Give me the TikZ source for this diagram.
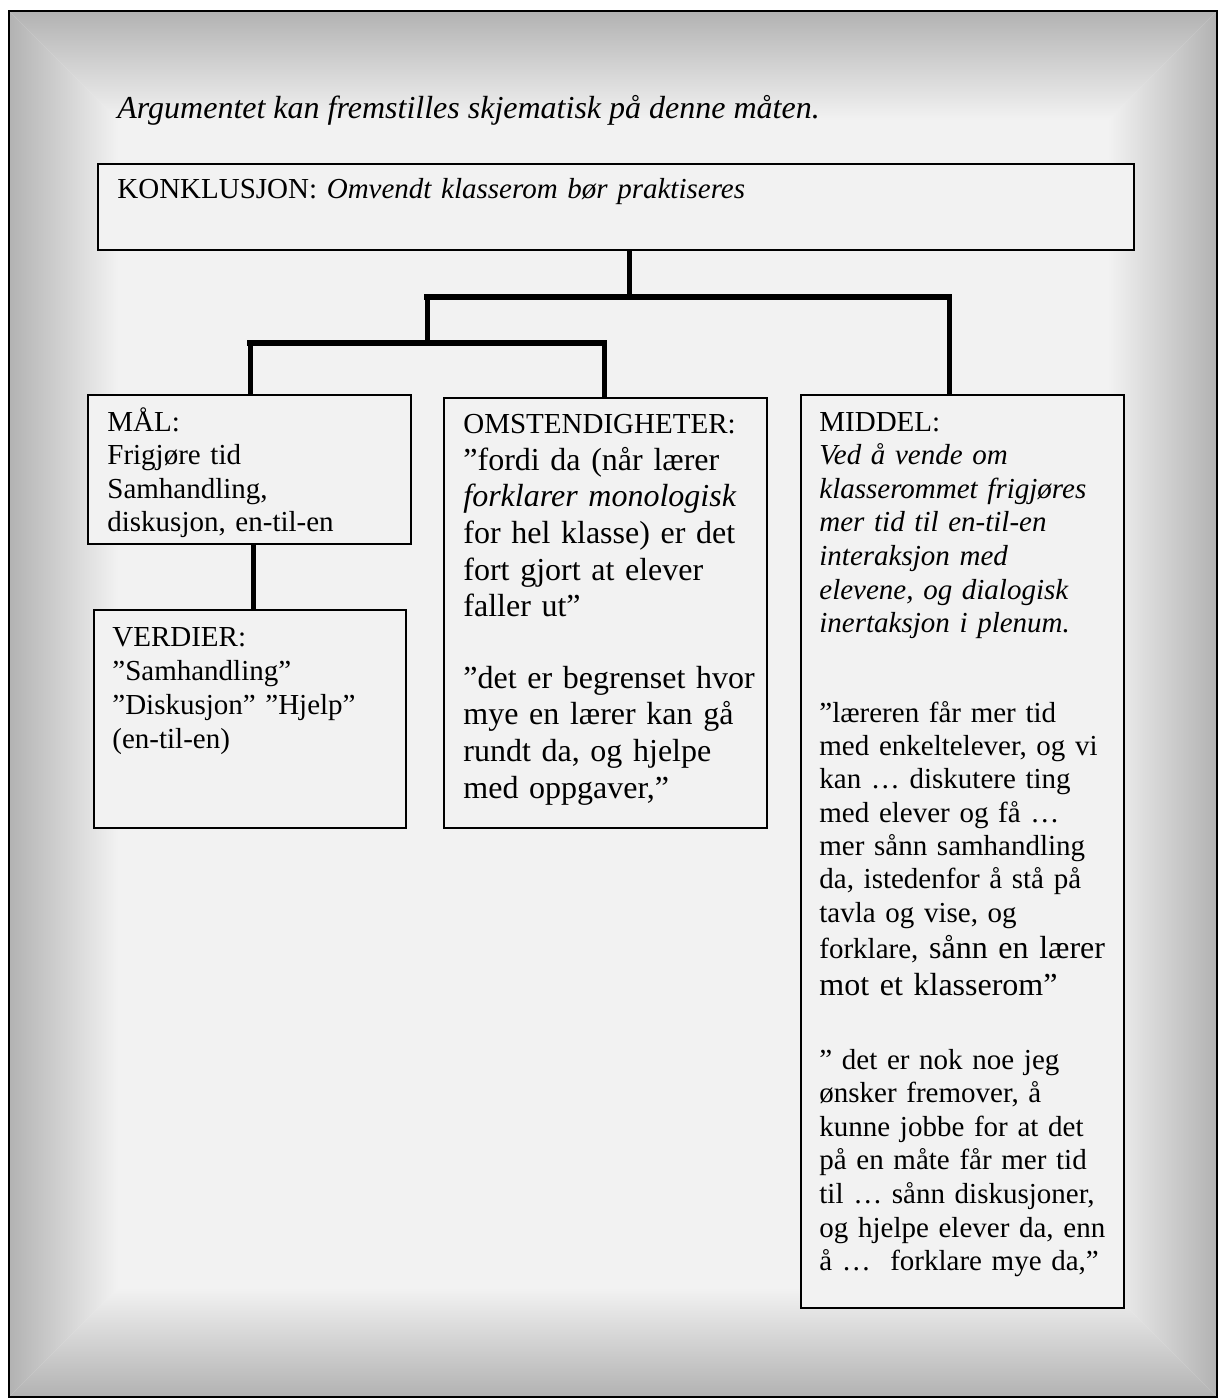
\documentclass[tikz,border=0pt]{standalone}
\usepackage{fontspec}
\setmainfont{Liberation Serif}
\usetikzlibrary{calc}
\definecolor{panel}{HTML}{F2F2F2}
\definecolor{rim}{HTML}{B2B2B2}
\tikzset{
	argbox/.style={draw, line width=1pt, fill=panel, inner sep=0pt, anchor=north west},
	argtxt/.style={inner sep=0pt, anchor=base west, align=left, text width=155pt, font=\fontsize{14.5}{16.8}\selectfont},
	bigtxt/.style={argtxt, font=\fontsize{16}{18.35}\selectfont},
	link/.style={line width=2.5pt},
	bar/.style={line width=3pt, line cap=rect}
}

\begin{document}
\begin{tikzpicture}[x=0.5pt, y=-0.5pt]
		%%%%% START %%%%%
		\useasboundingbox (0,0) rectangle (1218,1398);
		
		% frame with shaded rim
		\fill[panel] (9,11) rectangle (1217,1397);
		\shade[left color=rim, right color=panel] (9,11) -- (118,120) -- (118,1288) -- (9,1397) -- cycle;
		\shade[left color=panel, right color=rim] (1217,11) -- (1108,120) -- (1108,1288) -- (1217,1397) -- cycle;
		\shade[top color=rim, bottom color=panel] (9,11) -- (1217,11) -- (1108,120) -- (118,120) -- cycle;
		\shade[top color=panel, bottom color=rim] (118,1288) -- (1108,1288) -- (1217,1397) -- (9,1397) -- cycle;
		\draw[line width=1pt] (9,11) rectangle (1217,1397);
		
		\node[anchor=base west, inner sep=0pt, font=\fontsize{16}{19}\selectfont\itshape] (titel) at (117,118) {Argumentet kan fremstilles skjematisk på denne måten.};
		
		% boxes
		\node[argbox, minimum width=518pt, minimum height=43pt] (konk) at (97,163) {};
		\node[argbox, minimum width=161.5pt, minimum height=74.5pt] (mal) at (87,394) {};
		\node[argbox, minimum width=156pt, minimum height=109pt] (verdier) at (93,609) {};
		\node[argbox, minimum width=161.5pt, minimum height=215pt] (omst) at (443,397) {};
		\node[argbox, minimum width=161.5pt, minimum height=456.5pt] (middel) at (800,394) {};
		
		% texts
		\node[argtxt, text width=500pt] (konktxt) at (117,198) {KONKLUSJON: \textit{Omvendt klasserom bør praktiseres}};
		\node[argtxt] (maltxt) at (107,431) {MÅL:\\ Frigjøre tid\\ Samhandling,\\ diskusjon, en-til-en};
		\node[argtxt, font=\fontsize{14.5}{17}\selectfont] (verdiertxt) at (112,646) {VERDIER:\\ ”Samhandling”\\ ”Diskusjon” ”Hjelp”\\ (en-til-en)};
		\node[argtxt] (omsthead) at (463,433) {OMSTENDIGHETER:};
		\node[bigtxt] (omsta) at (463,470) {”fordi da (når lærer\\ \textit{forklarer monologisk}\\ for hel klasse) er det\\ fort gjort at elever\\ faller ut”};
		\node[bigtxt] (omstb) at (463,688) {”det er begrenset hvor\\ mye en lærer kan gå\\ rundt da, og hjelpe\\ med oppgaver,”};
		\node[argtxt] (middelhead) at (819,431) {MIDDEL:\\ {\itshape Ved å vende om\\ klasserommet frigjøres\\ mer tid til en-til-en\\ interaksjon med\\ elevene, og dialogisk\\ inertaksjon i plenum.}};
		\node[argtxt, font=\fontsize{14.5}{16.67}\selectfont] (middela) at (819,722) {”læreren får mer tid\\ med enkeltelever, og vi\\ kan … diskutere ting\\ med elever og få …\\ mer sånn samhandling\\ da, istedenfor å stå på\\ tavla og vise, og};
		\node[argtxt, font=\fontsize{16}{18.5}\selectfont] (middelb) at (819,958) {{\fontsize{14.5}{16.8}\selectfont forklare,} sånn en lærer\\ mot et klasserom”};
		\node[argtxt] (middelc) at (819,1069) {” det er nok noe jeg\\ ønsker fremover, å\\ kunne jobbe for at det\\ på en måte får mer tid\\ til … sånn diskusjoner,\\ og hjelpe elever da, enn\\ å …~ forklare mye da,”};
		
		% connectors
		\coordinate (k) at (629,297);
		\coordinate (kl) at (427,297);
		\coordinate (kr) at (949,297);
		\coordinate (ul) at (250,343);
		\coordinate (ur) at (604,343);
		\coordinate (mv) at (253,0);
		\draw[link] (konk.south -| k) -- (k);
		\draw[bar] (kl) -- (kr);
		\draw[link] (kr) -- (middel.north -| kr);
		\draw[link] (kl) -- (kl |- ul);
		\draw[bar] (ul) -- (ur);
		\draw[link] (ul) -- (mal.north -| ul);
		\draw[link] (ur) -- (omst.north -| ur);
		\draw[link] (mal.south -| mv) -- (verdier.north -| mv);
		%%%%% END %%%%%
\end{tikzpicture}
\end{document}
